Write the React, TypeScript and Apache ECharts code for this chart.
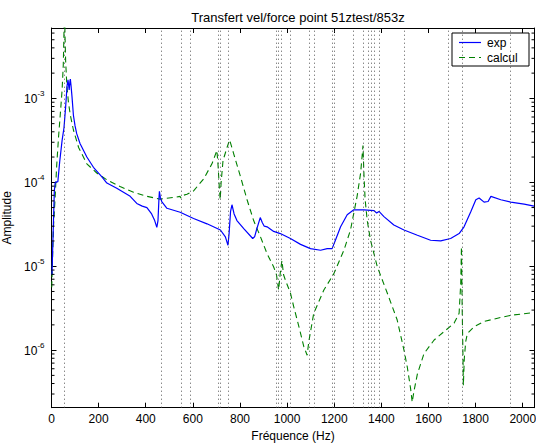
import React, { useEffect, useRef } from 'react';
import * as echarts from 'echarts';

const TITLE = 'Transfert vel/force point 51ztest/853z';
const X_NAME = 'Fréquence (Hz)';
const Y_NAME = 'Amplitude';
const LEGEND_NAMES = ['exp', 'calcul'];
const X_MIN = 0;
const X_MAX = 2050;
const X_STEP = 200;
const Y_MIN = 2.06e-7;
const Y_MAX = 6.9e-3;
const Y_MINOR = [
  3e-7, 4e-7, 5e-7, 6e-7, 7e-7, 8e-7, 9e-7,
  2e-6, 3e-6, 4e-6, 5e-6, 6e-6, 7e-6, 8e-6, 9e-6,
  2e-5, 3e-5, 4e-5, 5e-5, 6e-5, 7e-5, 8e-5, 9e-5,
  2e-4, 3e-4, 4e-4, 5e-4, 6e-4, 7e-4, 8e-4, 9e-4,
  2e-3, 3e-3, 4e-3, 5e-3, 6e-3,
];
const MODE_FREQS = [55, 465, 549, 591, 706, 718, 752, 952, 964, 976, 1012, 1094, 1114, 1193, 1200, 1280, 1322, 1344, 1356, 1368, 1392, 1496, 1686, 1742, 1948];

const EXP_FREQ = [2, 6, 12, 16, 27, 35, 45, 53, 60, 66, 70, 73, 75, 78, 80, 83, 87, 93, 100, 107, 121, 150, 178, 213, 235, 277, 334, 362, 385, 405, 425, 438, 447, 452, 456, 458, 462, 468, 490, 546, 603, 660, 717, 738, 749, 754, 760, 766, 775, 787, 816, 854, 862, 870, 886, 895, 903, 915, 943, 971, 1014, 1057, 1099, 1142, 1170, 1191, 1205, 1227, 1255, 1283, 1326, 1369, 1380, 1390, 1411, 1453, 1496, 1553, 1609, 1652, 1694, 1730, 1751, 1780, 1801, 1815, 1836, 1853, 1865, 1907, 1949, 2006, 2048];
const EXP_AMP = [7.9e-6, 2.0e-5, 7.9e-5, 1.0e-4, 1.02e-4, 1.78e-4, 3.16e-4, 4.47e-4, 7.9e-4, 1.41e-3, 1.66e-3, 1.41e-3, 1.26e-3, 1.58e-3, 1.70e-3, 1.41e-3, 1.05e-3, 6.3e-4, 4.7e-4, 3.8e-4, 2.9e-4, 2.0e-4, 1.51e-4, 1.17e-4, 9.8e-5, 8.5e-5, 6.8e-5, 5.6e-5, 5.2e-5, 5.0e-5, 4.2e-5, 3.5e-5, 2.9e-5, 3.5e-5, 6.3e-5, 7.8e-5, 6.6e-5, 5.9e-5, 4.9e-5, 4.4e-5, 3.7e-5, 3.2e-5, 2.7e-5, 2.24e-5, 1.78e-5, 2.5e-5, 4.5e-5, 5.4e-5, 4.2e-5, 3.5e-5, 2.8e-5, 2.14e-5, 2.24e-5, 2.7e-5, 3.8e-5, 3.3e-5, 3.0e-5, 2.95e-5, 2.6e-5, 2.45e-5, 2.14e-5, 1.82e-5, 1.62e-5, 1.55e-5, 1.62e-5, 1.62e-5, 2.04e-5, 2.95e-5, 4.1e-5, 4.7e-5, 4.7e-5, 4.6e-5, 4.3e-5, 4.5e-5, 3.9e-5, 3.1e-5, 2.7e-5, 2.34e-5, 2.04e-5, 2.0e-5, 2.14e-5, 2.45e-5, 2.95e-5, 4.5e-5, 6.2e-5, 6.5e-5, 5.8e-5, 5.9e-5, 6.8e-5, 6.2e-5, 5.8e-5, 5.5e-5, 5.2e-5];

const CALC_FREQ = [1, 8, 15, 22, 30, 37, 45, 50, 53, 55, 57, 60, 65, 72, 80, 93, 115, 150, 192, 235, 291, 348, 405, 461, 518, 546, 549, 552, 575, 603, 646, 681, 702, 707, 712, 716, 720, 728, 745, 756, 773, 802, 830, 858, 887, 915, 943, 955, 964, 972, 978, 985, 993, 1014, 1028, 1050, 1071, 1085, 1092, 1113, 1156, 1198, 1241, 1269, 1297, 1312, 1318, 1322, 1326, 1331, 1340, 1354, 1383, 1425, 1467, 1496, 1510, 1524, 1531, 1538, 1553, 1581, 1624, 1666, 1709, 1730, 1737, 1740, 1743, 1746, 1748, 1752, 1758, 1765, 1794, 1836, 1893, 1949, 2048];
const CALC_AMP = [5.6e-6, 2.8e-5, 6.3e-5, 1.58e-4, 3.5e-4, 6.3e-4, 1.26e-3, 2.5e-3, 6.3e-3, 3.2e-2, 6.3e-3, 2.8e-3, 1.45e-3, 8.9e-4, 6.3e-4, 4.2e-4, 2.6e-4, 1.66e-4, 1.29e-4, 1.07e-4, 8.9e-5, 7.6e-5, 6.8e-5, 6.3e-5, 6.6e-5, 6.8e-5, 6.5e-5, 6.9e-5, 7.2e-5, 7.9e-5, 1.10e-4, 1.66e-4, 2.4e-4, 1.58e-4, 8.9e-5, 6.2e-5, 1.0e-4, 1.82e-4, 2.6e-4, 3.2e-4, 2.2e-4, 1.17e-4, 6.2e-5, 3.5e-5, 2.24e-5, 1.41e-5, 9.8e-6, 7.9e-6, 5.2e-6, 8.9e-6, 1.17e-5, 7.9e-6, 6.8e-6, 4.8e-6, 3.3e-6, 1.91e-6, 1.10e-6, 8.7e-7, 1.26e-6, 2.75e-6, 5.2e-6, 8.1e-6, 1.55e-5, 2.7e-5, 6.8e-5, 1.29e-4, 2.0e-4, 2.75e-4, 1.26e-4, 6.3e-5, 3.5e-5, 2.04e-5, 9.8e-6, 4.8e-6, 2.3e-6, 1.0e-6, 6.3e-7, 3.5e-7, 2.4e-7, 3.2e-7, 5.2e-7, 9.1e-7, 1.32e-6, 1.66e-6, 2.1e-6, 2.75e-6, 6.3e-6, 1.70e-5, 3.2e-6, 1.0e-6, 3.8e-7, 7.9e-7, 1.26e-6, 1.58e-6, 1.91e-6, 2.2e-6, 2.4e-6, 2.6e-6, 2.8e-6];

const FONT = '"Liberation Sans", Arial, Helvetica, sans-serif';
const BLUE = '#0000ff';
const GREEN = '#008000';

export default function App() {
  const ref = useRef<HTMLDivElement>(null);
  useEffect(() => {
    if (!ref.current) return;
    const chart = echarts.init(ref.current, null, { renderer: 'svg' });
    const expData = EXP_FREQ.map((f, i) => [f, EXP_AMP[i]]);
    const calcData = CALC_FREQ.map((f, i) => [f, CALC_AMP[i]]);
    const minorData = Y_MINOR.map((v) => [X_MIN, v]);

    const grid = { left: 51.5, right: 1.5, top: 28, bottom: 35.3, containLabel: false, outerBoundsMode: 'none' };

    const yLabel = {
      show: true,
      margin: 7,
      fontFamily: FONT,
      color: '#000',
      showMinLabel: false,
      showMaxLabel: false,
      formatter: (v: number) => `{b|10}{s|${Math.round(Math.log10(v))}}`,
      rich: {
        b: { fontSize: 12, fontFamily: FONT, color: '#000', padding: [1, 0, 0, 0] },
        s: { fontSize: 8, fontFamily: FONT, color: '#000', padding: [0, 0, 9, 0] },
      },
    };

    chart.setOption({
      animation: false,
      backgroundColor: '#ffffff',
      title: {
        text: TITLE,
        left: 293,
        textAlign: 'center',
        top: 6,
        textStyle: { fontFamily: FONT, fontSize: 13, fontWeight: 'normal', color: '#000' },
      },
      grid,
      xAxis: [
        {
          type: 'value',
          min: X_MIN,
          max: X_MAX,
          interval: X_STEP,
          position: 'bottom',
          name: X_NAME,
          nameLocation: 'middle',
          nameGap: 20,
          nameTextStyle: { fontFamily: FONT, fontSize: 12, color: '#000' },
          axisLine: { show: true, onZero: false, lineStyle: { color: '#000', width: 1 } },
          axisTick: { show: true, inside: true, length: 5, lineStyle: { color: '#000' } },
          axisLabel: {
            show: true,
            margin: 5,
            fontFamily: FONT,
            fontSize: 12,
            color: '#000',
            showMaxLabel: false,
            formatter: (v: number) => String(v),
          },
          splitLine: { show: false },
        },
        {
          type: 'value',
          min: X_MIN,
          max: X_MAX,
          interval: X_STEP,
          position: 'top',
          axisLine: { show: true, onZero: false, lineStyle: { color: '#000', width: 1 } },
          axisTick: { show: true, inside: true, length: 5, lineStyle: { color: '#000' } },
          axisLabel: { show: false },
          splitLine: { show: false },
        },
      ],
      yAxis: [
        {
          type: 'log',
          logBase: 10,
          min: Y_MIN,
          max: Y_MAX,
          position: 'left',
          name: Y_NAME,
          nameLocation: 'middle',
          nameRotate: 90,
          nameGap: 33,
          nameTextStyle: { fontFamily: FONT, fontSize: 12, color: '#000' },
          axisLine: { show: true, onZero: false, lineStyle: { color: '#000', width: 1 } },
          axisTick: { show: true, inside: true, length: 5, lineStyle: { color: '#000' } },
          axisLabel: yLabel,
          splitLine: { show: false },
          minorTick: { show: false },
        },
        {
          type: 'log',
          logBase: 10,
          min: Y_MIN,
          max: Y_MAX,
          position: 'right',
          axisLine: { show: true, onZero: false, lineStyle: { color: '#000', width: 1 } },
          axisTick: { show: true, inside: true, length: 5, lineStyle: { color: '#000' } },
          axisLabel: { show: false },
          splitLine: { show: false },
        },
      ],
      series: [
        {
          name: 'modes',
          type: 'line',
          data: [],
          xAxisIndex: 0,
          yAxisIndex: 0,
          silent: true,
          z: 1,
          markLine: {
            silent: true,
            symbol: ['none', 'none'],
            label: { show: false },
            lineStyle: { color: '#444', width: 1, type: [1, 3], opacity: 0.9 },
            data: MODE_FREQS.map((f) => ({ xAxis: f })),
          },
        },
        {
          name: 'minorTicks',
          type: 'custom',
          xAxisIndex: 0,
          yAxisIndex: 0,
          silent: true,
          z: 3,
          data: minorData,
          encode: { x: 0, y: 1 },
          renderItem: (params: any, api: any) => {
            const v = api.value(1);
            const pL = api.coord([X_MIN, v]);
            const pR = api.coord([X_MAX, v]);
            return {
              type: 'group',
              children: [
                { type: 'line', shape: { x1: pL[0], y1: pL[1], x2: pL[0] + 3, y2: pL[1] }, style: { stroke: '#000', lineWidth: 1 } },
                { type: 'line', shape: { x1: pR[0], y1: pR[1], x2: pR[0] - 3, y2: pR[1] }, style: { stroke: '#000', lineWidth: 1 } },
              ],
            };
          },
        },
        {
          name: LEGEND_NAMES[1],
          type: 'line',
          data: calcData,
          xAxisIndex: 0,
          yAxisIndex: 0,
          showSymbol: false,
          symbol: 'none',
          clip: true,
          z: 2,
          lineStyle: { color: GREEN, width: 1.1, type: [6, 4] },
        },
        {
          name: LEGEND_NAMES[0],
          type: 'line',
          data: expData,
          xAxisIndex: 0,
          yAxisIndex: 0,
          showSymbol: false,
          symbol: 'none',
          clip: true,
          z: 2,
          lineStyle: { color: BLUE, width: 1.2 },
        },
      ],
      graphic: [
        {
          type: 'group',
          z: 100,
          children: [
            { type: 'rect', shape: { x: 452, y: 33, width: 77, height: 33 }, style: { fill: '#fff', stroke: '#000', lineWidth: 1 } },
            { type: 'line', shape: { x1: 459, y1: 42.5, x2: 481, y2: 42.5 }, style: { stroke: BLUE, lineWidth: 1.2 } },
            { type: 'line', shape: { x1: 459, y1: 57.5, x2: 481, y2: 57.5 }, style: { stroke: GREEN, lineWidth: 1.1, lineDash: [6, 4] } },
            { type: 'text', x: 487, y: 42.5, style: { text: LEGEND_NAMES[0], fontFamily: FONT, fontSize: 12, fill: '#000', verticalAlign: 'middle', align: 'left' } },
            { type: 'text', x: 487, y: 57.5, style: { text: LEGEND_NAMES[1], fontFamily: FONT, fontSize: 12, fill: '#000', verticalAlign: 'middle', align: 'left' } },
          ],
        },
      ],
    });
    return () => chart.dispose();
  }, []);
  return <div ref={ref} style={{ position: 'fixed', left: 0, top: 0, width: 536, height: 443, background: '#fff' }} />;
}
